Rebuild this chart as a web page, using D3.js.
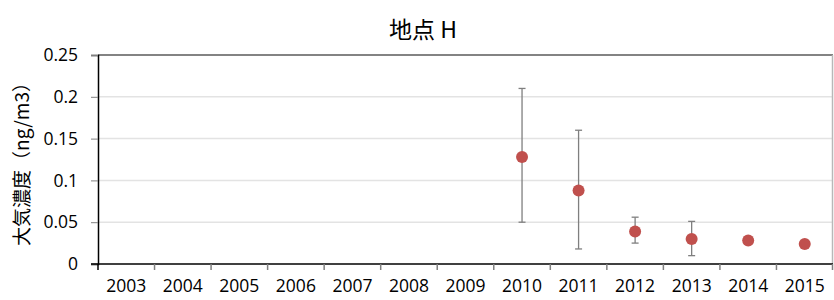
<!DOCTYPE html>
<html>
<head>
<meta charset="utf-8">
<script src="https://d3js.org/d3.v7.min.js"></script>
<style>
  body { margin: 0; background: #fff; }
  svg { display: block; font-family: "Open Sans", "Noto Sans CJK JP", sans-serif; }
</style>
</head>
<body>
<script>
// chart data
var years = ["2003","2004","2005","2006","2007","2008","2009","2010","2011","2012","2013","2014","2015"];
var ptYears = ["2010","2011","2012","2013","2014","2015"];
var means = [0.128, 0.088, 0.039, 0.030, 0.028, 0.024];
var errHigh = [0.210, 0.160, 0.056, 0.051, null, null];
var errLow = [0.050, 0.018, 0.025, 0.010, null, null];
var yTicks = [0, 0.05, 0.1, 0.15, 0.2, 0.25];
var yTickLabels = ["0", "0.05", "0.1", "0.15", "0.2", "0.25"];

var W = 834, H = 300;
var margin = { top: 55, right: 1, bottom: 36, left: 98 };
var svg = d3.select("body").append("svg").attr("width", W).attr("height", H);

var x = d3.scaleBand().domain(years).range([margin.left, W - margin.right]);
var y = d3.scaleLinear().domain([0, 0.25]).range([H - margin.bottom, margin.top]);

// gridlines
svg.append("g").selectAll("line")
  .data(yTicks.slice(1, -1))
  .enter().append("line")
  .attr("x1", margin.left).attr("x2", W - margin.right)
  .attr("y1", function(d) { return y(d); }).attr("y2", function(d) { return y(d); })
  .attr("stroke", "#e3e3e3").attr("stroke-width", 1.5);

// plot frame: top dark line, right light line
svg.append("line")
  .attr("x1", margin.left).attr("x2", W - margin.right)
  .attr("y1", y(0.25)).attr("y2", y(0.25))
  .attr("stroke", "#5a5a5a").attr("stroke-width", 1.5);
svg.append("line")
  .attr("x1", W - margin.right - 0.5).attr("x2", W - margin.right - 0.5)
  .attr("y1", y(0.25)).attr("y2", y(0))
  .attr("stroke", "#b8b8b8").attr("stroke-width", 1.5);

// y axis
var yAxis = svg.append("g")
  .attr("transform", "translate(" + margin.left + ",0)")
  .call(d3.axisLeft(y).tickValues(yTicks)
    .tickFormat(function(d, i) { return yTickLabels[i]; })
    .tickSize(7).tickPadding(13));
yAxis.select(".domain").attr("stroke", "#000").attr("stroke-width", 1.5);
yAxis.selectAll(".tick line").attr("stroke", "#808080");
yAxis.selectAll("text").attr("font-size", 17.5).attr("fill", "#000")
  .attr("font-family", "Open Sans, sans-serif");

// x axis with ticks on category boundaries
var xAxis = svg.append("g").attr("transform", "translate(0," + y(0) + ")");
xAxis.append("line")
  .attr("x1", margin.left - 7).attr("x2", W - margin.right)
  .attr("stroke", "#000").attr("stroke-width", 1.5);
xAxis.selectAll("line.tk")
  .data(years)
  .enter().append("line").attr("class", "tk")
  .attr("x1", function(d) { return x(d); }).attr("x2", function(d) { return x(d); })
  .attr("y1", 0).attr("y2", 6)
  .attr("stroke", function(d, i) { return i === 0 ? "#000" : "#808080"; })
  .attr("stroke-width", 1.5);
xAxis.append("line")
  .attr("x1", W - margin.right - 0.5).attr("x2", W - margin.right - 0.5)
  .attr("y1", 0).attr("y2", 6).attr("stroke", "#808080").attr("stroke-width", 1.5);
xAxis.selectAll("text")
  .data(years)
  .enter().append("text")
  .attr("x", function(d) { return x(d) + x.bandwidth() / 2; })
  .attr("y", 28)
  .attr("text-anchor", "middle")
  .attr("font-size", 17.5)
  .text(function(d) { return d; });

// error bars
var pts = ptYears.map(function(d, i) {
  return { year: d, v: means[i], hi: errHigh[i], lo: errLow[i] };
});
var eb = svg.append("g").selectAll("g")
  .data(pts.filter(function(d) { return d.hi !== null; }))
  .enter().append("g")
  .attr("stroke", "#7f7f7f").attr("stroke-width", 1.3);
eb.append("line")
  .attr("x1", function(d) { return x(d.year) + x.bandwidth() / 2; })
  .attr("x2", function(d) { return x(d.year) + x.bandwidth() / 2; })
  .attr("y1", function(d) { return y(d.hi); })
  .attr("y2", function(d) { return y(d.lo); });
["hi", "lo"].forEach(function(k) {
  eb.append("line")
    .attr("x1", function(d) { return x(d.year) + x.bandwidth() / 2 - 3.5; })
    .attr("x2", function(d) { return x(d.year) + x.bandwidth() / 2 + 3.5; })
    .attr("y1", function(d) { return y(d[k]); })
    .attr("y2", function(d) { return y(d[k]); });
});

// points
svg.append("g").selectAll("circle")
  .data(pts)
  .enter().append("circle")
  .attr("cx", function(d) { return x(d.year) + x.bandwidth() / 2; })
  .attr("cy", function(d) { return y(d.v); })
  .attr("r", 6)
  .attr("fill", "#c0504d");

// title
svg.append("text")
  .attr("x", 423).attr("y", 38)
  .attr("text-anchor", "middle")
  .attr("font-size", 23)
  .attr("font-family", "Noto Sans CJK JP, sans-serif")
  .text("地点 H");

// y label
svg.append("text")
  .attr("transform", "translate(29," + (margin.top + (H - margin.bottom - margin.top) / 2) + ") rotate(-90)")
  .attr("text-anchor", "middle")
  .attr("font-size", 19)
  .attr("font-family", "Noto Sans CJK JP, sans-serif")
  .text("大気濃度（ng/m3）");
</script>
</body>
</html>
